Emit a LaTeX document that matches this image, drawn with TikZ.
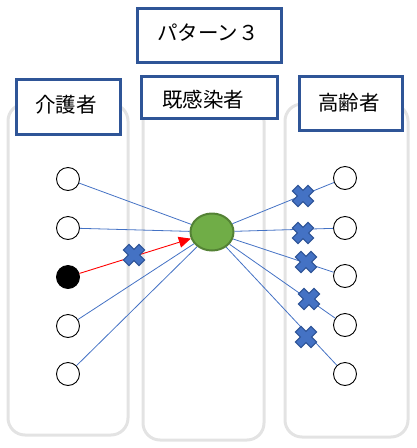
\documentclass[tikz,border=0pt]{standalone}
\usepackage{fontspec}
\newfontfamily\jp{Noto Sans CJK JP}
\usetikzlibrary{shapes.geometric,arrows.meta}
\definecolor{boxblue}{HTML}{2F5597}
\definecolor{lineblue}{HTML}{4472C4}
\definecolor{colgray}{HTML}{E3E3E3}
\definecolor{egreen}{HTML}{70AD47}
\definecolor{edgreen}{HTML}{548235}
\tikzset{
  colbox/.style={draw=colgray,line width=3pt,rounded corners=17pt},
  titlebox/.style={draw=boxblue,line width=3pt,fill=white,inner sep=0pt},
  lbl/.style={font=\jp\fontsize{20.5}{22}\selectfont,text=black,inner sep=0pt},
  person/.style={circle,draw=black,line width=0.9pt,fill=white,minimum size=23pt,inner sep=0pt},
  infected/.style={person,fill=black},
  hub/.style={ellipse,draw=edgreen,fill=egreen,line width=2pt,minimum width=43pt,minimum height=37pt,inner sep=0pt},
  link/.style={draw=lineblue,line width=0.8pt},
  redlink/.style={draw=red,line width=0.9pt,-{Triangle[length=12pt,width=11pt]}},
  xmark/.pic={\fill[lineblue,draw=boxblue,line width=1pt,rotate=45]
     (-4,11)--(4,11)--(4,4)--(11,4)--(11,-4)--(4,-4)--(4,-11)--(-4,-11)--(-4,-4)--(-11,-4)--(-11,4)--(-4,4)--cycle;}
}
\begin{document}
\begin{tikzpicture}[x=1pt,y=-1pt]
\useasboundingbox (0,0) rectangle (416,448);
% columns
\draw[colbox] (8,104) rectangle (128,435);
\draw[colbox] (143,104) rectangle (264,440);
\draw[colbox] (285,104) rectangle (408,437);
% header boxes
\draw[titlebox] (137,8) rectangle (281,62);
\node[lbl] (t0) at (208,33) {パターン３};
\draw[titlebox] (16,79) rectangle (120,134);
\node[lbl] (t1) at (66,105) {介護者};
\draw[titlebox] (141,76) rectangle (277,118);
\node[lbl] (t2) at (203,100) {既感染者};
\draw[titlebox] (299,76) rectangle (402,130);
\node[lbl] (t3) at (349,103) {高齢者};
% hub
\node[hub] (e) at (212,232) {};
% left persons
\node[person] (l1) at (68,179) {};
\node[person] (l2) at (68,228) {};
\node[infected] (l3) at (68,277) {};
\node[person] (l4) at (68,326) {};
\node[person] (l5) at (68,374) {};
% right persons
\node[person] (r1) at (345,178) {};
\node[person] (r2) at (345,228) {};
\node[person] (r3) at (345,276) {};
\node[person] (r4) at (345,325) {};
\node[person] (r5) at (345,374) {};
% links
\draw[link] (l1) -- (e);
\draw[link] (l2) -- (e);
\draw[link] (l4) -- (e);
\draw[link] (l5) -- (e);
\draw[redlink] (l3) -- (e);
\draw[link] (e) -- (r1);
\draw[link] (e) -- (r2);
\draw[link] (e) -- (r3);
\draw[link] (e) -- (r4);
\draw[link] (e) -- (r5);
% crosses
\pic at (134,255) {xmark};
\pic at (303,196) {xmark};
\pic at (303,233) {xmark};
\pic at (306,262) {xmark};
\pic at (309,299) {xmark};
\pic at (306,337) {xmark};
\end{tikzpicture}
\end{document}
